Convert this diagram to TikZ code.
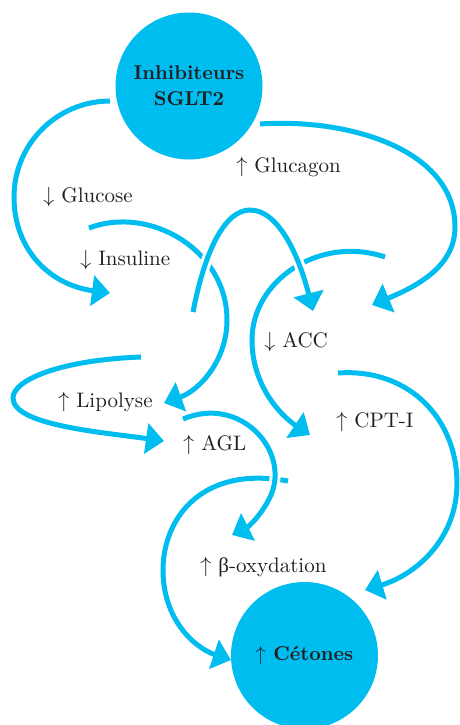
\documentclass[tikz,border=0pt]{standalone}
\usepackage{fontspec}
\newfontfamily\grk{Liberation Serif}
\usepackage{tikz}
\usetikzlibrary{arrows.meta,positioning}
\definecolor{sglt}{RGB}{0,189,240}
\definecolor{ink}{RGB}{35,31,32}
\tikzset{myblob/.style={
  shape=circle,
  draw=none,
  fill=sglt,
  minimum size=73.5pt,
  inner sep=0pt,
  text=ink,
  align=center,
  font=\fontsize{10}{13}\selectfont\bfseries,
  }
  }
\tikzset{flow/.style={
  draw=sglt,
  line width=2.5pt,
  -{Triangle[length=9pt,width=15pt]},
  }
  }
\tikzset{over/.style={
  preaction={draw=white,line width=5.5pt},
  }
  }
\tikzset{lab/.style={
  anchor=base west,
  inner sep=0pt,
  text=ink,
  font=\fontsize{10.5}{12}\selectfont,
  }
  }
\begin{document}
\begin{tikzpicture}[x=0.5pt,y=-0.5pt]
      \useasboundingbox (0,0) rectangle (460,725);
      \node [myblob] (inh) at (189,86) {Inhibiteurs\\SGLT{\addfontfeatures{Numbers=OldStyle}2}};
      \node [myblob] (cet) at (304.5,655.5) {$\uparrow$ Cétones};

      \node [lab] (glucagon) at (236,172) {$\uparrow$ Glucagon};
      \node [lab] (glucose)  at (43,202)  {$\downarrow$ Glucose};
      \node [lab] (insuline) at (80,265)  {$\downarrow$ Insuline};
      \node [lab] (acc)      at (264,347) {$\downarrow$ ACC};
      \node [lab] (lipolyse) at (58,407)  {$\uparrow$ Lipolyse};
      \node [lab] (cpt)      at (336,427) {$\uparrow$ CPT-I};
      \node [lab] (agl)      at (183,450) {$\uparrow$ AGL};
      \node [lab] (beta)     at (200,572) {$\uparrow$ {\grk β}-oxydation};

      \coordinate (g0) at (110,101);  \coordinate (g1) at (110,293);
      \coordinate (c0) at (260,124);  \coordinate (c1) at (372,305);
      \coordinate (i0) at (89,228);   \coordinate (i1) at (164,403);
      \coordinate (r0) at (193,312);  \coordinate (r1) at (313,311);
      \coordinate (a0) at (385,257);  \coordinate (a1) at (310,435);
      \coordinate (l0) at (141,357);  \coordinate (l1) at (164,441);
      \coordinate (f0) at (183,419);  \coordinate (f1) at (232,535);
      \coordinate (b0) at (288,481);  \coordinate (b1) at (231,660);
      \coordinate (p0) at (338,373);  \coordinate (p1) at (365,590);

      \draw [flow] (g0) .. controls (57,101) and (14,144) .. (14,197)
                        .. controls (14,250) and (50,285) .. (g1);
      \draw [flow] (c0) .. controls (350,118) and (455,150) .. (455,227)
                        .. controls (455,265) and (420,285) .. (c1);
      \draw [flow] (i0) .. controls (150,205) and (227,250) .. (227,320)
                        .. controls (227,360) and (200,390) .. (i1);
      \draw [flow] (a0) .. controls (320,235) and (252,280) .. (252,340)
                        .. controls (252,385) and (280,415) .. (a1);
      \draw [flow] (l0) .. controls (60,360) and (13,380) .. (13,398)
                        .. controls (13,425) and (100,432) .. (l1);
      \draw [flow] (p0) .. controls (410,368) and (457,420) .. (457,483)
                        .. controls (457,540) and (415,575) .. (p1);
      \draw [flow] (b0) .. controls (200,465) and (163,520) .. (163,570)
                        .. controls (163,620) and (195,648) .. (b1);
      \draw [flow, over] (r0) .. controls (205,250) and (225,210) .. (250,210)
                              .. controls (280,210) and (300,260) .. (r1);
      \draw [flow, over] (f0) .. controls (240,395) and (290,450) .. (271,495)
                              .. controls (262,515) and (248,527) .. (f1);
\end{tikzpicture}
\end{document}
